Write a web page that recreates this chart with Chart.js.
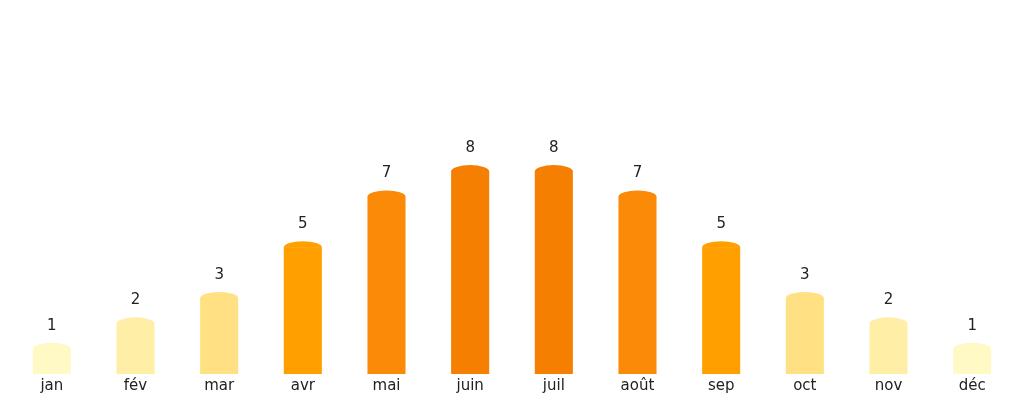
<!DOCTYPE html>
<html>
<head>
<meta charset="utf-8">
<script src="https://cdn.jsdelivr.net/npm/chart.js@4"></script>
<style>
  html, body { margin: 0; padding: 0; background: #fff; }
  #wrap { width: 1024px; height: 404px; }
</style>
</head>
<body>
<div id="wrap"><canvas id="sunChart"></canvas></div>
<script>
const months = ['jan', 'fév', 'mar', 'avr', 'mai', 'juin', 'juil', 'août', 'sep', 'oct', 'nov', 'déc'];
const hours = [1, 2, 3, 5, 7, 8, 8, 7, 5, 3, 2, 1];
const shadeByValue = { 1: '#FFF9C6', 2: '#FFEEA6', 3: '#FFE083', 5: '#FF9F00', 7: '#FA8A08', 8: '#F57F00' };
const barColors = hours.map(v => shadeByValue[v]);

// rounded "cylinder" cap on each bar + value labels above
const capsAndLabels = {
  id: 'capsAndLabels',
  afterDatasetsDraw(chart) {
    const ctx = chart.ctx;
    const meta = chart.getDatasetMeta(0);
    ctx.save();
    meta.data.forEach((bar, i) => {
      const half = bar.width / 2;
      ctx.beginPath();
      ctx.ellipse(bar.x, bar.y + 0.5, half, 6.5, 0, Math.PI, 2 * Math.PI);
      ctx.closePath();
      ctx.fillStyle = barColors[i];
      ctx.fill();

      ctx.fillStyle = '#222';
      ctx.font = '15px "DejaVu Sans", sans-serif';
      ctx.textAlign = 'center';
      ctx.textBaseline = 'middle';
      ctx.fillText(String(hours[i]), bar.x, bar.y - 23);
    });
    ctx.restore();
  }
};

new Chart(document.getElementById('sunChart'), {
  type: 'bar',
  data: {
    labels: months,
    datasets: [{
      data: hours,
      backgroundColor: barColors,
      borderWidth: 0,
      barPercentage: 0.455,
      categoryPercentage: 1
    }]
  },
  options: {
    responsive: true,
    maintainAspectRatio: false,
    animation: false,
    layout: { padding: { left: 10, right: 10, top: 10, bottom: 6 } },
    plugins: {
      legend: { display: false },
      tooltip: { enabled: false }
    },
    scales: {
      y: {
        display: false,
        min: 0,
        max: 14.35
      },
      x: {
        grid: { display: false, drawTicks: false },
        border: { display: false },
        ticks: {
          color: '#222',
          padding: 3,
          font: { family: '"DejaVu Sans", sans-serif', size: 15 }
        }
      }
    }
  },
  plugins: [capsAndLabels]
});
</script>
</body>
</html>
